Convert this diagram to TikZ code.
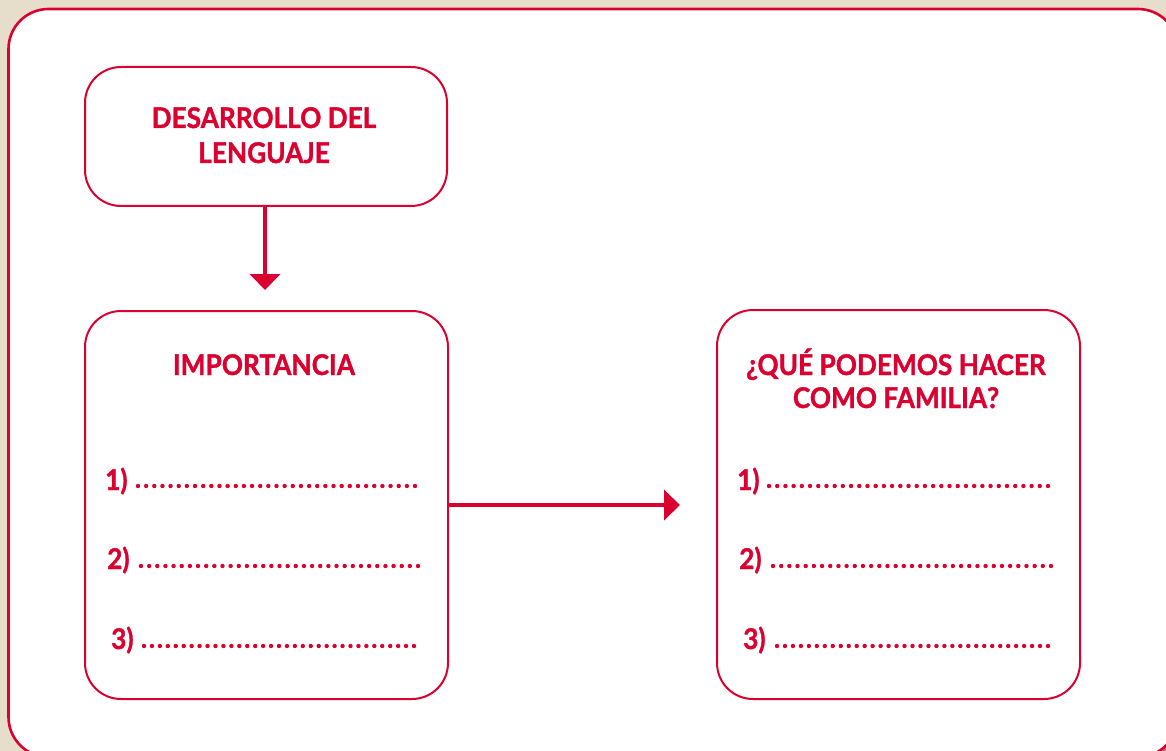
\documentclass[tikz,border=0pt]{standalone}
\usepackage{graphicx}
\usepackage{fontspec}
\setmainfont{Lato}
\newfontfamily\hfont{Lato}[BoldFeatures={FakeBold=1.3}]
\usetikzlibrary{arrows.meta}
\definecolor{cred}{RGB}{218,0,48}
\definecolor{beige}{RGB}{231,221,203}
\newcommand{\dotrow}[4]{\foreach \k in {0,...,#4}{\fill[cred] ({#1+(#2-#1)*\k/#4},#3) circle (2.2pt);}}
\newcommand{\nx}[1]{\scalebox{0.92}[1]{#1}}
\tikzset{
  box/.style={draw=cred, line width=2pt, rounded corners=36pt, fill=white, inner sep=0pt},
  ttl/.style={text=cred, font=\fontsize{28.5}{30}\hfont\bfseries, inner sep=0pt},
  num/.style={text=cred, font=\fontsize{28.5}{30}\hfont\bfseries, inner sep=0pt, anchor=base west},
  link/.style={draw=cred, line width=4.5pt, -{Triangle[width=30pt,length=16pt]}}
}
\begin{document}
\begin{tikzpicture}[x=1pt,y=-1pt]
\useasboundingbox (0,0) rectangle (1166,751);
\fill[beige] (0,0) rectangle (1166,751);
% shadow
\fill[black!60, opacity=0.7, rounded corners=40pt] (14,15) rectangle (1184,763);
% outer frame
\draw[draw=cred, line width=2.6pt, fill=white, rounded corners=40pt] (8.5,9) rectangle (1178,757);

% boxes
\node[box, minimum width=362pt, minimum height=139pt] (b1) at (266,136.5) {};
\node[box, minimum width=363pt, minimum height=388pt] (b2) at (266.5,505) {};
\node[box, minimum width=363pt, minimum height=389pt] (b3) at (898.5,504.5) {};

% titles
\node[ttl, anchor=base] (t1a) at (264,128) {\nx{DESARROLLO DEL}};
\node[ttl, anchor=base] (t1b) at (264,163) {\nx{LENGUAJE}};
\node[ttl, anchor=base] (t2) at (264,375) {\nx{IMPORTANCIA}};
\node[ttl, anchor=base] (t3a) at (896,375) {\nx{¿QUÉ PODEMOS HACER}};
\node[ttl, anchor=base] (t3b) at (896,408) {\nx{COMO FAMILIA?}};

% list left
\node[num] (l1) at (105,490) {\nx{1)}};
\node[num] (l2) at (107,569) {\nx{2)}};
\node[num] (l3) at (111,649) {\nx{3)}};
\dotrow{138}{415}{486}{34}
\dotrow{141}{418}{566}{34}
\dotrow{144}{414}{646}{34}

% list right
\node[num] (r1) at (737,490) {\nx{1)}};
\node[num] (r2) at (739,569) {\nx{2)}};
\node[num] (r3) at (743,649) {\nx{3)}};
\dotrow{769}{1048}{486}{34}
\dotrow{773}{1051}{566}{34}
\dotrow{777}{1048}{646}{34}

% connectors
\coordinate (a1) at (265,290);
\coordinate (a2) at (680,505);
\draw[link] (b1.south -| a1) -- (a1);
\draw[link] (b2.east |- a2) -- (a2);
\end{tikzpicture}
\end{document}
